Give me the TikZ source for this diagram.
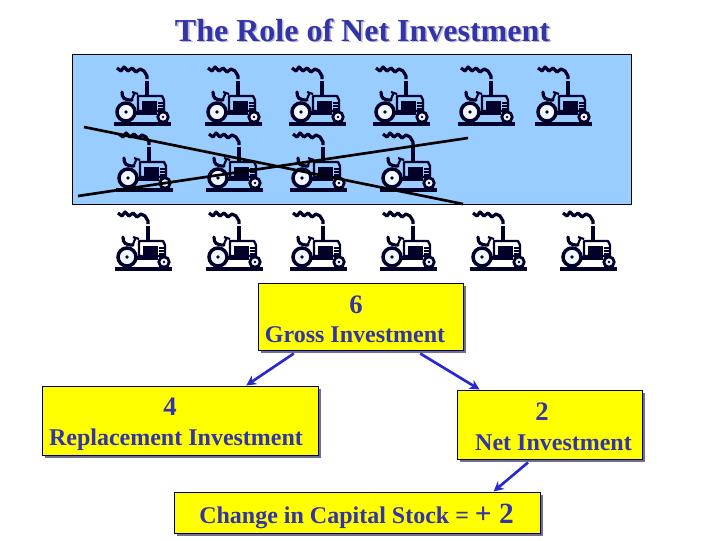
\documentclass[tikz,border=0pt]{standalone}
\usepackage{fontspec}
\setmainfont{Liberation Serif}
\usetikzlibrary{calc,shadows,arrows.meta}
\definecolor{ink}{RGB}{51,51,170}
\definecolor{tshadow}{RGB}{190,190,205}
\definecolor{panelblue}{RGB}{153,204,255}
\definecolor{navy}{RGB}{0,0,40}
\definecolor{arrowblue}{RGB}{40,40,210}
\definecolor{boxshadow}{RGB}{110,110,150}
\definecolor{boxyellow}{RGB}{255,255,0}
\newcommand{\shadowed}[1]{\makebox[0pt][l]{\raisebox{-1.2pt}{\kern1.2pt\textcolor{tshadow}{#1}}}\textcolor{ink}{#1}}
\tikzset{
  x=0.75pt,y=-0.75pt,
  infobox/.style={draw=black!70!blue,line width=0.75pt,fill=boxyellow,inner sep=0pt,
    general shadow={shadow xshift=2.2pt,shadow yshift=-2.2pt,fill=boxshadow}},
  boxtext/.style={font=\bfseries\fontsize{#1}{#1}\selectfont,text=ink,inner sep=0pt},
  flow/.style={draw=arrowblue,line width=2pt,-{Stealth[length=7.5pt,width=7.5pt]}},
  crossline/.style={draw=black,line width=2pt},
  tractor/.pic={
    \draw[navy,line width=2.4pt,line join=round] (-9,-44)--(-5,-41)--(-2,-45)--(2,-41)--(6,-44)--(10,-40)--(14,-43)--(18,-41)--(21,-36)--(21,-33);
    \draw[navy,line width=2.4pt] (21,-31)--(21,-16);
    \draw[navy,line width=1.8pt,line join=round] (12,-16)--(36,-16)--(38,-12)--(38,-1)--(12,-1)--cycle;
    \fill[navy] (16,-11) rectangle (31,-1);
    \fill[navy] (8,-1) rectangle (31,3);
    \draw[navy,line width=1.2pt] (32,-9)--(38,-9) (32,-6)--(38,-6) (32,-3)--(38,-3);
    \draw[navy,line width=2.4pt,line cap=round] (-4,-20) .. controls (-4,-14) and (-2,-12) .. (6,-12);
    \draw[navy,line width=1.6pt] (6,-13)--(9,-20) (6,-20)--(12,-18);
    \draw[navy,line width=2.6pt,fill=white!85!panelblue] (0,0) circle (9);
    \fill[navy] (0,0) circle (1.8);
    \draw[navy,line width=2.1pt,fill=white!85!panelblue] (37,5) circle (5.2);
    \fill[navy] (37,5) circle (1.4);
    \draw[navy,line width=2.4pt] (-12,12)--(45,12);
  }
}
\begin{document}
\begin{tikzpicture}
\useasboundingbox (0,0) rectangle (720,540);
\fill[white] (0,0) rectangle (720,540);

\node[font=\bfseries\fontsize{24}{24}\selectfont,inner sep=0pt] (title) at (362.5,31) {\shadowed{The Role of Net Investment}};

\draw[draw=black,line width=0.6pt,fill=panelblue] (72,54) rectangle (631,204);

\foreach \px/\py in {126/112,217/112,301/112,385/112,470/112,547/112,
                     128/178,218/178,302/178,392/178,
                     127/257,218/257,302/257,392/257,482/257,572/257}
  \pic at (\px,\py) {tractor};

\coordinate (la) at (84,127);
\coordinate (lb) at (463,204);
\coordinate (lc) at (78,196);
\coordinate (ld) at (468,138);
\draw[crossline] (la) -- (lb);
\draw[crossline] (lc) -- (ld);

\node[infobox,minimum width=153.75pt,minimum height=50.25pt] (gross) at (360.5,316.5) {};
\node[infobox,minimum width=207pt,minimum height=51.75pt] (repl) at (180,420.5) {};
\node[infobox,minimum width=138.75pt,minimum height=51.75pt] (net) at (549.5,424.5) {};
\node[infobox,minimum width=274.5pt,minimum height=30.75pt] (change) at (357,512.5) {};

\node[boxtext=20] (n6) at (356,305) {6};
\node[boxtext=18] (tgross) at (355,335) {Gross Investment};
\node[boxtext=20] (n4) at (170,407) {4};
\node[boxtext=18] (trepl) at (176,439.5) {Replacement Investment};
\node[boxtext=20] (n2) at (542,412) {2};
\node[boxtext=18] (tnet) at (553.5,443) {Net Investment};
\node[boxtext=18,anchor=base west] (tchange) at (199,523) {Change in Capital Stock = \fontsize{22}{22}\selectfont + 2};

\draw[flow] ($(gross.south west)!0.176!(gross.south east)+(0,3)$) -- ($(repl.north west)!0.739!(repl.north east)$);
\draw[flow] ($(gross.south west)!0.79!(gross.south east)+(0,3)$) -- ($(net.north west)!0.124!(net.north east)$);
\draw[flow] ($(net.south west)!0.384!(net.south east)+(0,3)$) -- ($(change.north west)!0.872!(change.north east)$);
\end{tikzpicture}
\end{document}
